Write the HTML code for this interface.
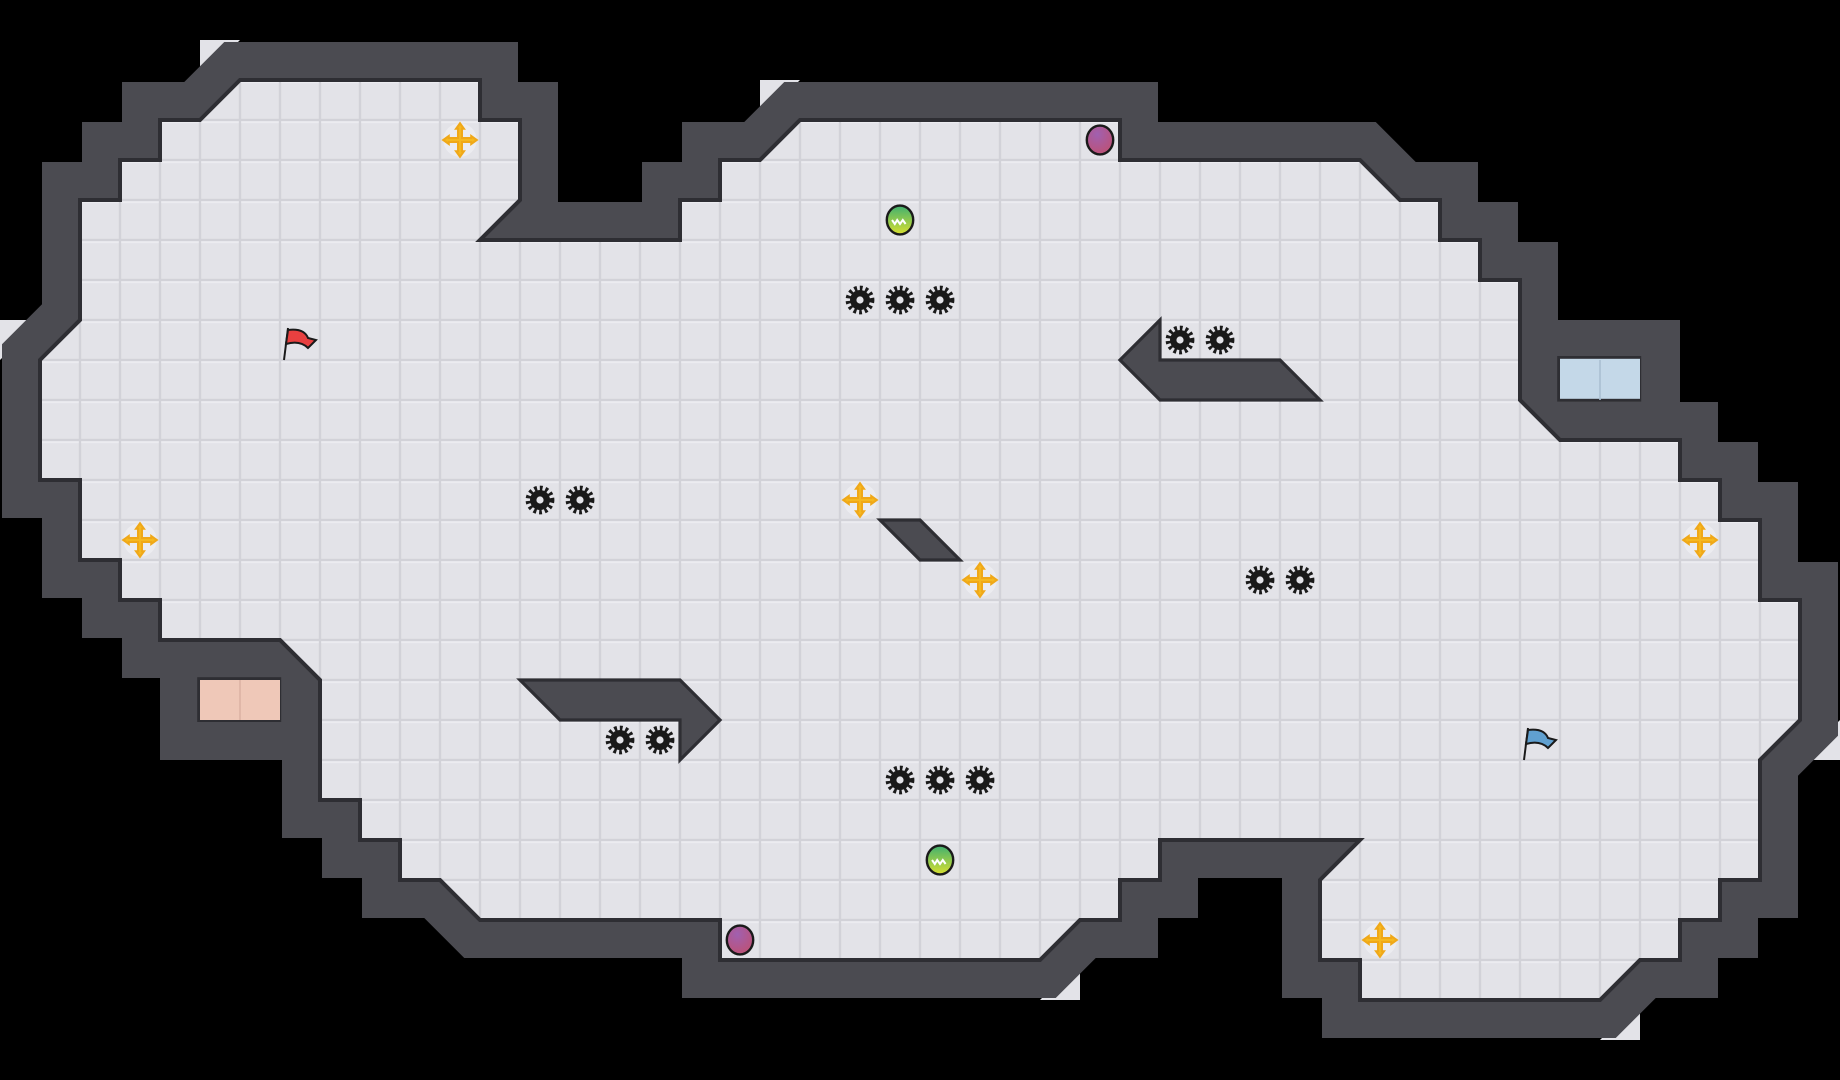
<!DOCTYPE html>
<html><head><meta charset="utf-8"><style>
html,body{margin:0;padding:0;background:#000;}
svg{display:block;}
</style></head><body>
<svg width="1840" height="1080" viewBox="0 0 46 27" xmlns="http://www.w3.org/2000/svg">
<defs>
<pattern id="tile" x="0" y="0" width="1" height="1" patternUnits="userSpaceOnUse">
<rect width="1" height="1" fill="#d2d2d8"/>
<rect x="0.03" y="0.03" width="0.94" height="0.94" fill="#e3e3e8"/>
<rect x="0.03" y="0.03" width="0.94" height="0.05" fill="#ececf0"/>
</pattern>
<g id="gear">
<circle r="0.3" fill="none" stroke="#1a1a1a" stroke-width="0.12" stroke-dasharray="0.07 0.07"/>
<circle r="0.25" fill="#1a1a1a"/>
<circle r="0.09" fill="#e3e3e8"/>
</g>
<g id="cross">
<circle r="0.42" fill="#ececf0"/>
<path d="M0,-0.42 L0.1,-0.28 L0.05,-0.28 L0.05,-0.05 L0.28,-0.05 L0.28,-0.1 L0.42,0 L0.28,0.1 L0.28,0.05 L0.05,0.05 L0.05,0.28 L0.1,0.28 L0,0.42 L-0.1,0.28 L-0.05,0.28 L-0.05,0.05 L-0.28,0.05 L-0.28,0.1 L-0.42,0 L-0.28,-0.1 L-0.28,-0.05 L-0.05,-0.05 L-0.05,-0.28 L-0.1,-0.28 Z" fill="#f5b820" stroke="#f0a818" stroke-width="0.05"/>
</g>
<radialGradient id="pur" cx="0.4" cy="0.3" r="0.8"><stop offset="0" stop-color="#a060b0"/><stop offset="1" stop-color="#c05070"/></radialGradient>
<linearGradient id="grn" x1="0" y1="0" x2="0" y2="1"><stop offset="0" stop-color="#40b070"/><stop offset="1" stop-color="#d8e030"/></linearGradient>
</defs>
<rect width="46" height="27" fill="#000"/>
<g fill="#e3e3e8">
<polygon points="5,1 6,1 5,2"/>
<polygon points="19,2 20,2 19,3"/>
<polygon points="0,8 1,8 0,9"/>
<polygon points="46,18 46,19 45,19"/>
<polygon points="27,24 27,25 26,25"/>
<polygon points="41,25 41,26 40,26"/>
</g>
<g fill="#4b4b51">
<polygon points="3.5,16 7,16 8,17 8,19 4,19 4,16"/>
<polygon points="38,8 42,8 42,11 39,11 38,10"/>
</g>
<polygon points="5,3 6,2 12,2 12,3 13,3 13,5 12,6 17,6 17,5 18,5 18,4 19,4 20,3 28,3 28,4 34,4 35,5 36,5 36,6 37,6 37,7 38,7 38,10 39,11 42,11 42,12 43,12 43,13 44,13 44,15 45,15 45,18 44,19 44,22 43,22 43,23 42,23 42,24 41,24 40,25 34,25 34,24 33,24 33,22 34,21 29,21 29,22 28,22 28,23 27,23 26,24 18,24 18,23 12,23 11,22 10,22 10,21 9,21 9,20 8,20 8,17 7,16 4,16 4,15 3,15 3,14 2,14 2,12 1,12 1,9 2,8 2,5 3,5 3,4 4,4 4,3" fill="#4b4b51" stroke="#4b4b51" stroke-width="1.9" stroke-linejoin="miter" stroke-miterlimit="4"/>
<polygon points="5,3 6,2 12,2 12,3 13,3 13,5 12,6 17,6 17,5 18,5 18,4 19,4 20,3 28,3 28,4 34,4 35,5 36,5 36,6 37,6 37,7 38,7 38,10 39,11 42,11 42,12 43,12 43,13 44,13 44,15 45,15 45,18 44,19 44,22 43,22 43,23 42,23 42,24 41,24 40,25 34,25 34,24 33,24 33,22 34,21 29,21 29,22 28,22 28,23 27,23 26,24 18,24 18,23 12,23 11,22 10,22 10,21 9,21 9,20 8,20 8,17 7,16 4,16 4,15 3,15 3,14 2,14 2,12 1,12 1,9 2,8 2,5 3,5 3,4 4,4 4,3" fill="url(#tile)" stroke="#2e2e33" stroke-width="0.1"/>
<rect x="4.93" y="16.93" width="2.1" height="1.12" fill="#2e2e33"/>
<rect x="5" y="17" width="2" height="1" fill="#efc8b8"/>
<line x1="6" y1="17" x2="6" y2="18" stroke="#dcb3a3" stroke-width="0.04"/>
<rect x="38.93" y="8.9" width="2.1" height="1.14" fill="#2e2e33"/>
<rect x="39" y="8.97" width="2" height="1" fill="#c4d8e8"/>
<line x1="40" y1="9" x2="40" y2="10" stroke="#aac0d2" stroke-width="0.04"/>
<g fill="#4b4b51" stroke="#2e2e33" stroke-width="0.08">
<polygon points="28,9 29,8 29,9 32,9 33,10 29,10"/>
<polygon points="22,13 23,13 24,14 23,14"/>
<polygon points="13,17 17,17 18,18 17,19 17,18 14,18"/>
</g>
<use href="#gear" x="21.5" y="7.5"/><use href="#gear" x="22.5" y="7.5"/><use href="#gear" x="23.5" y="7.5"/>
<use href="#gear" x="29.5" y="8.5"/><use href="#gear" x="30.5" y="8.5"/>
<use href="#gear" x="13.5" y="12.5"/><use href="#gear" x="14.5" y="12.5"/>
<use href="#gear" x="31.5" y="14.5"/><use href="#gear" x="32.5" y="14.5"/>
<use href="#gear" x="15.5" y="18.5"/><use href="#gear" x="16.5" y="18.5"/>
<use href="#gear" x="22.5" y="19.5"/><use href="#gear" x="23.5" y="19.5"/><use href="#gear" x="24.5" y="19.5"/>
<use href="#cross" x="11.5" y="3.5"/><use href="#cross" x="3.5" y="13.5"/>
<use href="#cross" x="21.5" y="12.5"/><use href="#cross" x="24.5" y="14.5"/>
<use href="#cross" x="42.5" y="13.5"/><use href="#cross" x="34.5" y="23.5"/>
<ellipse cx="27.5" cy="3.5" rx="0.33" ry="0.36" fill="url(#pur)" stroke="#1a1a1a" stroke-width="0.06"/>
<ellipse cx="18.5" cy="23.5" rx="0.33" ry="0.36" fill="url(#pur)" stroke="#1a1a1a" stroke-width="0.06"/>
<ellipse cx="22.5" cy="5.5" rx="0.33" ry="0.36" fill="url(#grn)" stroke="#1a1a1a" stroke-width="0.06"/>
<path d="M22.3,5.5 l0.07,0.1 l0.06,-0.1 l0.07,0.1 l0.07,-0.1 l0.07,0.1" fill="none" stroke="#fff" stroke-width="0.05"/>
<ellipse cx="23.5" cy="21.5" rx="0.33" ry="0.36" fill="url(#grn)" stroke="#1a1a1a" stroke-width="0.06"/>
<path d="M23.3,21.5 l0.07,0.1 l0.06,-0.1 l0.07,0.1 l0.07,-0.1 l0.07,0.1" fill="none" stroke="#fff" stroke-width="0.05"/>
<g stroke="#1a1a1a" stroke-width="0.05">
<line x1="7.1" y1="9" x2="7.2" y2="8.2"/>
<path d="M7.2,8.25 Q7.6,8.2 7.7,8.45 L7.9,8.5 L7.7,8.7 Q7.5,8.5 7.15,8.6 Z" fill="#e84040"/>
<line x1="38.1" y1="19" x2="38.2" y2="18.2"/>
<path d="M38.2,18.25 Q38.6,18.2 38.7,18.45 L38.9,18.5 L38.7,18.7 Q38.5,18.5 38.15,18.6 Z" fill="#60a0d0"/>
</g>
</svg>
</body></html>
